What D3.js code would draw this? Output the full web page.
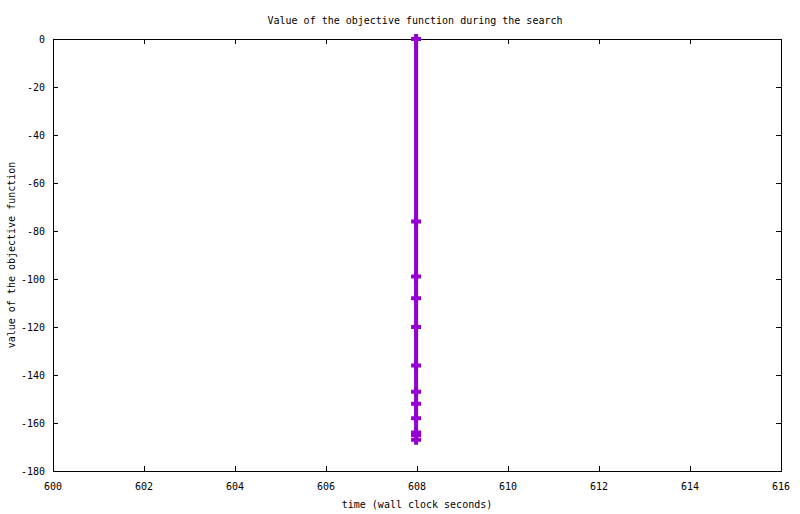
<!DOCTYPE html>
<html>
<head>
<meta charset="utf-8">
<script src="https://d3js.org/d3.v7.min.js"></script>
<style>
  body { margin: 0; background: #fff; }
  text { font-family: "DejaVu Sans Mono", "Liberation Mono", monospace; font-size: 10px; fill: #000; }
</style>
</head>
<body>
<div id="chart"></div>
<script>
// Chart data
const times = [607.98, 607.98, 607.98, 607.98, 607.98, 607.98, 607.98, 607.98, 607.98, 607.98, 607.98, 607.98];
const objective = [0, -76, -99, -108, -120, -136, -147, -152, -158, -164, -165, -167];
const xTicks = [600, 602, 604, 606, 608, 610, 612, 614, 616];
const yTicks = [0, -20, -40, -60, -80, -100, -120, -140, -160, -180];

const width = 800;
const height = 514;
const margin = { top: 39, right: 19, bottom: 43, left: 53 };

const svg = d3.select("#chart")
    .append("svg")
    .attr("width", width)
    .attr("height", height);

const x = d3.scaleLinear()
    .domain([600, 616])
    .range([margin.left, width - margin.right]);

const y = d3.scaleLinear()
    .domain([-180, 0])
    .range([height - margin.bottom, margin.top]);

const tick = 5;

// Frame
svg.append("rect")
    .attr("x", x(600) + 0.5)
    .attr("y", y(0) + 0.5)
    .attr("width", x(616) - x(600))
    .attr("height", y(-180) - y(0))
    .attr("fill", "none")
    .attr("stroke", "#000")
    .attr("stroke-width", 1);

// Ticks on all four sides, pointing inwards
const xTickG = svg.append("g");
xTicks.forEach(t => {
    const px = Math.round(x(t)) + 0.5;
    xTickG.append("line")
        .attr("x1", px).attr("x2", px)
        .attr("y1", y(-180)).attr("y2", y(-180) - tick)
        .attr("stroke", "#000");
    xTickG.append("line")
        .attr("x1", px).attr("x2", px)
        .attr("y1", y(0)).attr("y2", y(0) + tick)
        .attr("stroke", "#000");
    xTickG.append("text")
        .attr("x", x(t))
        .attr("y", y(-180) + 19)
        .attr("text-anchor", "middle")
        .text(t);
});

const yTickG = svg.append("g");
yTicks.forEach(t => {
    const py = Math.round(y(t)) + 0.5;
    yTickG.append("line")
        .attr("x1", x(600)).attr("x2", x(600) + tick)
        .attr("y1", py).attr("y2", py)
        .attr("stroke", "#000");
    yTickG.append("line")
        .attr("x1", x(616)).attr("x2", x(616) - tick)
        .attr("y1", py).attr("y2", py)
        .attr("stroke", "#000");
    yTickG.append("text")
        .attr("x", x(600) - 8)
        .attr("y", y(t) + 4)
        .attr("text-anchor", "end")
        .text(String(t));
});

// Series line
const points = times.map((t, i) => ({ t: t, v: objective[i] }));

const line = d3.line()
    .x(d => x(d.t))
    .y(d => y(d.v));

svg.append("path")
    .datum(points)
    .attr("d", line)
    .attr("fill", "none")
    .attr("stroke", "#9400d3")
    .attr("stroke-width", 4);

// Point markers (plus signs)
svg.append("g")
    .selectAll("path")
    .data(points)
    .enter().append("path")
    .attr("d", d => {
        const cx = x(d.t), cy = y(d.v);
        return `M${cx - 5},${cy}H${cx + 5}M${cx},${cy - 5}V${cy + 5}`;
    })
    .attr("stroke", "#9400d3")
    .attr("stroke-width", 4)
    .attr("fill", "none");

// Title and axis labels
svg.append("text")
    .attr("x", width / 2 + 15)
    .attr("y", 24)
    .attr("text-anchor", "middle")
    .text("Value of the objective function during the search");

svg.append("text")
    .attr("x", (x(600) + x(616)) / 2)
    .attr("y", 508)
    .attr("text-anchor", "middle")
    .text("time (wall clock seconds)");

svg.append("text")
    .attr("transform", `translate(15,${(y(0) + y(-180)) / 2}) rotate(-90)`)
    .attr("text-anchor", "middle")
    .text("value of the objective function");
</script>
</body>
</html>
